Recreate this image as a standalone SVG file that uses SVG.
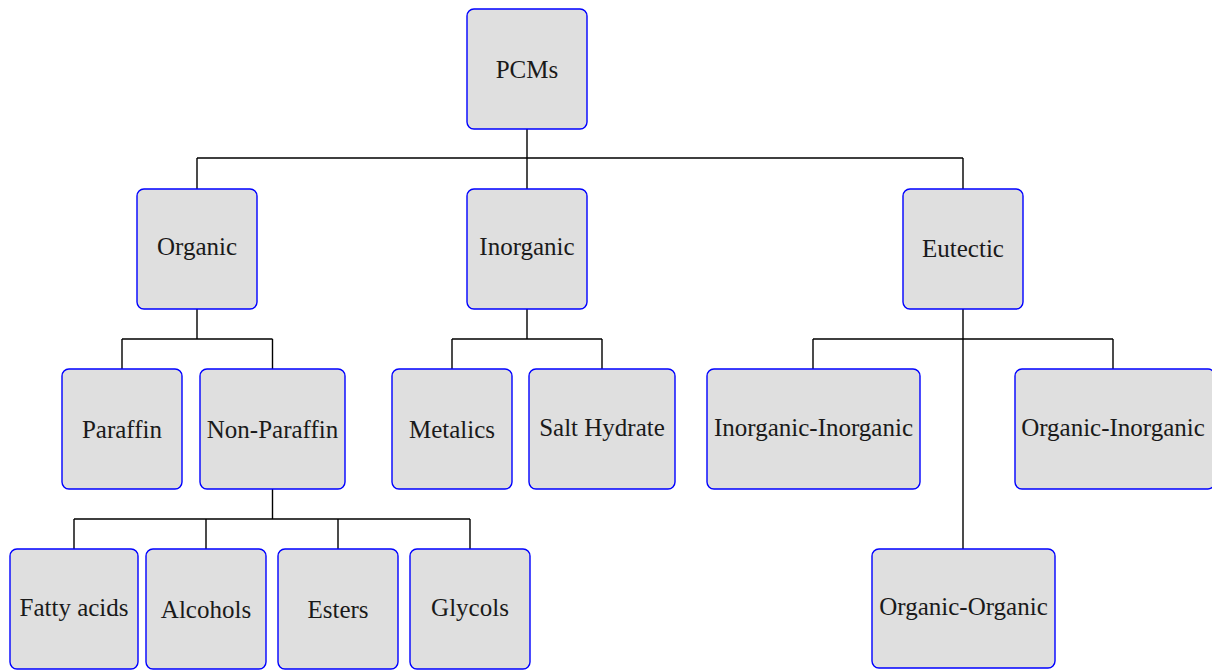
<svg xmlns="http://www.w3.org/2000/svg" width="1212" height="671" viewBox="0 0 1212 671">
<style>
.n rect{fill:#dfdfdf;stroke:#0000ff;stroke-width:1.4}
.n text{fill:#1a1a1a;text-anchor:middle;font-family:"Liberation Serif",serif;font-size:25px}
#connectors path{fill:none;stroke:#000;stroke-width:1.4}
</style>
<rect width="1212" height="671" fill="#fff"/>
<g id="connectors">
<path d="M527 129V158M197 158H963M197 158V189M527 158V189M963 158V189"/>
<path d="M197 309V339M122 339H272.5M122 339V369M272.5 339V369"/>
<path d="M527 309V339M452 339H602M452 339V369M602 339V369"/>
<path d="M963 309V549M813 339H1113M813 339V369M1113 339V369"/>
<path d="M272.5 489V519M74 519H470M74 519V549M206 519V549M338 519V549M470 519V549"/>
</g>
<g id="pcms" class="n"><rect x="467" y="9" width="120" height="120" rx="7"/><text x="527" y="78">PCMs</text></g>
<g id="organic" class="n"><rect x="137" y="189" width="120" height="120" rx="7"/><text x="197" y="255">Organic</text></g>
<g id="inorganic" class="n"><rect x="467" y="189" width="120" height="120" rx="7"/><text x="527" y="255">Inorganic</text></g>
<g id="eutectic" class="n"><rect x="903" y="189" width="120" height="120" rx="7"/><text x="963" y="257">Eutectic</text></g>
<g id="paraffin" class="n"><rect x="62" y="369" width="120" height="120" rx="7"/><text x="122" y="438">Paraffin</text></g>
<g id="nonparaffin" class="n"><rect x="200" y="369" width="145" height="120" rx="7"/><text x="272.5" y="438">Non-Paraffin</text></g>
<g id="metalics" class="n"><rect x="392" y="369" width="120" height="120" rx="7"/><text x="452" y="438">Metalics</text></g>
<g id="salthydrate" class="n"><rect x="529" y="369" width="146" height="120" rx="7"/><text x="602" y="436">Salt Hydrate</text></g>
<g id="inorg-inorg" class="n"><rect x="707" y="369" width="213" height="120" rx="7"/><text x="813.5" y="436">Inorganic-Inorganic</text></g>
<g id="org-inorg" class="n"><rect x="1015" y="369" width="200" height="120" rx="7"/><text x="1113" y="436">Organic-Inorganic</text></g>
<g id="fattyacids" class="n"><rect x="10" y="549" width="128" height="120" rx="7"/><text x="74" y="616">Fatty acids</text></g>
<g id="alcohols" class="n"><rect x="146" y="549" width="120" height="120" rx="7"/><text x="206" y="618">Alcohols</text></g>
<g id="esters" class="n"><rect x="278" y="549" width="120" height="120" rx="7"/><text x="338" y="618">Esters</text></g>
<g id="glycols" class="n"><rect x="410" y="549" width="120" height="120" rx="7"/><text x="470" y="616">Glycols</text></g>
<g id="org-org" class="n"><rect x="872" y="549" width="183" height="119" rx="7"/><text x="963.5" y="615">Organic-Organic</text></g>
</svg>
